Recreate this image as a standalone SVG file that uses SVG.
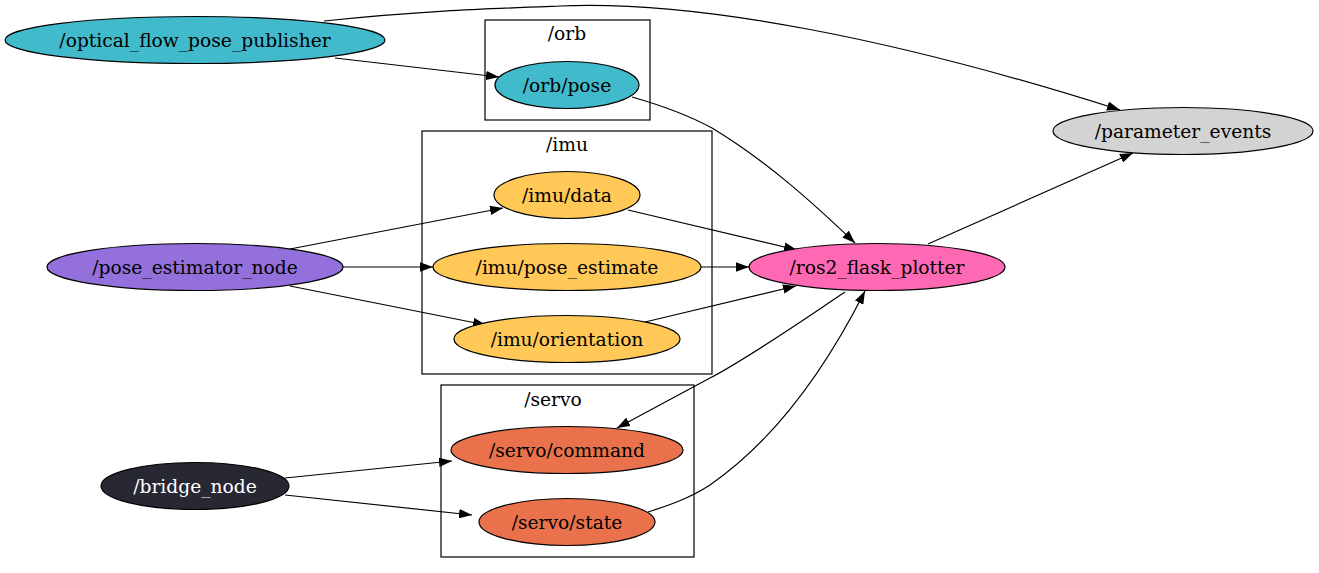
<svg xmlns="http://www.w3.org/2000/svg" width="1319" height="573" viewBox="0 0 1319 573">
<style>
text{font-family:"DejaVu Serif","Liberation Serif",serif;font-size:18.67px;text-anchor:middle}
.n ellipse{stroke:#000;stroke-width:1.2}
.c rect{fill:none;stroke:#000;stroke-width:1.2}
.e path{fill:none;stroke:#000;stroke-width:1.2;marker-end:url(#ah)}
</style>
<defs>
<marker id="ah" viewBox="0 0 13 9.4" refX="13" refY="4.7" markerWidth="13" markerHeight="9.4" orient="auto" markerUnits="userSpaceOnUse"><path d="M0,0 L13,4.7 L0,9.4 z" fill="#000"/></marker>
</defs>
<rect width="1319" height="573" fill="#fff"/>
<g class="c" id="cluster_orb"><rect x="485" y="20" width="165" height="100"/><text x="567" y="40">/orb</text></g>
<g class="c" id="cluster_imu"><rect x="422" y="131" width="290" height="243"/><text x="567" y="151">/imu</text></g>
<g class="c" id="cluster_servo"><rect x="441" y="385" width="253" height="172"/><text x="553" y="406">/servo</text></g>
<g class="e" id="edges">
<path d="M324,21 C420,11 480,9 560,6 C700,0 900,40 1120,110"/>
<path d="M335,58 L499,77"/>
<path d="M632,97 C660,105 690,116 712,128 C765,160 810,200 855,243"/>
<path d="M290,249 L503,208"/>
<path d="M343,267 L433,267"/>
<path d="M290,286 L486,325"/>
<path d="M628,210 L797,250"/>
<path d="M701,267 L749,267"/>
<path d="M645,322 L796,286"/>
<path d="M928,244 L1133,153"/>
<path d="M845,292 C800,322 750,357 710,378 C680,394 650,410 617,428"/>
<path d="M648,512 C670,505 690,498 710,485 C775,440 825,370 865,291"/>
<path d="M285,478 L452,461"/>
<path d="M285,495 L472,515"/>
</g>
<g class="n" id="n_optical"><ellipse cx="195" cy="40" rx="190" ry="23.5" fill="#41bbcb"/><text x="195" y="46.5">/optical_flow_pose_publisher</text></g>
<g class="n" id="n_orb_pose"><ellipse cx="567" cy="85" rx="72" ry="23.5" fill="#41bbcb"/><text x="567" y="91.5">/orb/pose</text></g>
<g class="n" id="n_imu_data"><ellipse cx="567" cy="195" rx="73" ry="23.5" fill="#ffc857"/><text x="567" y="201.5">/imu/data</text></g>
<g class="n" id="n_imu_pose"><ellipse cx="567" cy="267" rx="134" ry="23.5" fill="#ffc857"/><text x="567" y="273.5">/imu/pose_estimate</text></g>
<g class="n" id="n_imu_orient"><ellipse cx="567" cy="339" rx="113" ry="23.5" fill="#ffc857"/><text x="567" y="345.5">/imu/orientation</text></g>
<g class="n" id="n_servo_cmd"><ellipse cx="567" cy="450" rx="116" ry="23.5" fill="#e9724c"/><text x="567" y="456.5">/servo/command</text></g>
<g class="n" id="n_servo_state"><ellipse cx="567" cy="522" rx="88" ry="23.5" fill="#e9724c"/><text x="567" y="528.5">/servo/state</text></g>
<g class="n" id="n_pose_est"><ellipse cx="195" cy="267" rx="148" ry="23.5" fill="#9370db"/><text x="195" y="273.5">/pose_estimator_node</text></g>
<g class="n" id="n_bridge"><ellipse cx="195" cy="486" rx="94" ry="23.5" fill="#282833"/><text x="195" y="492.5" fill="#fff">/bridge_node</text></g>
<g class="n" id="n_ros2"><ellipse cx="877" cy="267" rx="128" ry="23.5" fill="#ff69b4"/><text x="877" y="273.5">/ros2_flask_plotter</text></g>
<g class="n" id="n_param"><ellipse cx="1183" cy="131" rx="130" ry="23.5" fill="#d3d3d3"/><text x="1183" y="137.5">/parameter_events</text></g>
</svg>
